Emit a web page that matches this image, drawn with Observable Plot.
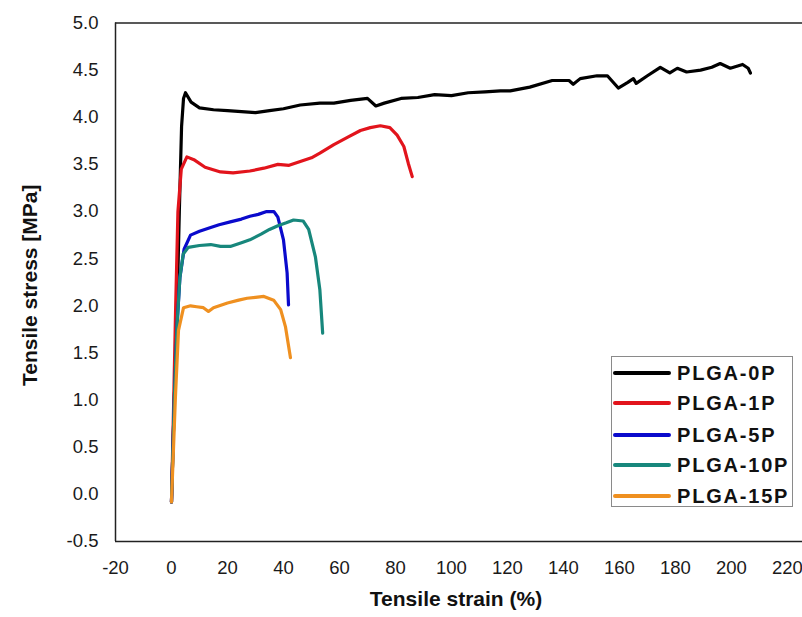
<!DOCTYPE html>
<html>
<head>
<meta charset="utf-8">
<script src="https://cdn.jsdelivr.net/npm/d3@7"></script>
<script src="https://cdn.jsdelivr.net/npm/@observablehq/plot@0.6"></script>
<style>
  html, body { margin: 0; padding: 0; background: #fff; }
  #wrap { position: relative; width: 802px; height: 617px; font-family: "Liberation Sans", Arial, sans-serif; }
  #legend { position: absolute; left: 611px; top: 356px; width: 182px; height: 151px; border: 1px solid #8a8a8a; background: #fff; box-sizing: border-box; overflow: visible; }
  .row { position: absolute; left: 0; height: 30px; display: flex; align-items: center; white-space: nowrap; }
  .sw { flex: none; width: 58px; height: 4px; margin-left: 1px; border-radius: 2px; }
  .lb { flex: none; white-space: nowrap; margin-left: 6px; font-weight: bold; font-size: 20px; letter-spacing: 1.8px; color: #111; }
</style>
</head>
<body>
<div id="wrap"></div>
<script>
// ---- data ----
const seriesNames = ["PLGA-0P", "PLGA-1P", "PLGA-5P", "PLGA-10P", "PLGA-15P"];
const seriesColors = ["#000000", "#e2141c", "#0a0acc", "#17877c", "#ef9020"];

const strain0P = [0, 1, 2, 2.8, 3.6, 4.3, 5, 7, 10, 15, 20, 25, 30, 35, 40, 46, 53, 58, 64, 70, 73, 76, 82, 88, 94, 100, 106, 112, 117.5, 121, 128, 136, 142, 143.5, 146, 152, 155.7, 159.6, 163, 165, 166, 170, 174.6, 178, 180.7, 184, 189, 193, 196, 199.6, 204, 206, 206.8];
const stress0P = [-0.08, 1.0, 2.0, 3.0, 3.9, 4.2, 4.26, 4.16, 4.1, 4.08, 4.07, 4.06, 4.05, 4.07, 4.09, 4.13, 4.15, 4.15, 4.18, 4.2, 4.12, 4.15, 4.2, 4.21, 4.24, 4.23, 4.26, 4.27, 4.28, 4.28, 4.32, 4.39, 4.39, 4.35, 4.41, 4.44, 4.44, 4.31, 4.37, 4.41, 4.36, 4.44, 4.53, 4.47, 4.52, 4.48, 4.50, 4.53, 4.57, 4.52, 4.56, 4.52, 4.47];

const strain1P = [0, 0.8, 1.5, 2.3, 3.5, 5.5, 8, 12, 17.5, 22, 28, 33, 38, 42, 46, 50, 53, 58, 63, 67.5, 71, 74.6, 78, 80.6, 83, 84.6, 86];
const stress1P = [-0.08, 1.0, 2.0, 3.0, 3.45, 3.58, 3.55, 3.47, 3.42, 3.41, 3.43, 3.46, 3.50, 3.49, 3.53, 3.57, 3.62, 3.71, 3.79, 3.86, 3.89, 3.91, 3.89, 3.81, 3.69, 3.51, 3.37];

const strain5P = [0, 1, 2, 3, 4.5, 6.8, 10, 14, 17, 21, 25, 28, 31, 34, 36.6, 38, 40, 41.3, 41.8];
const stress5P = [-0.08, 1.0, 1.8, 2.3, 2.6, 2.75, 2.79, 2.83, 2.86, 2.89, 2.92, 2.95, 2.97, 3.0, 3.0, 2.94, 2.70, 2.35, 2.01];

const strain10P = [0, 1, 2, 3, 4.2, 6, 10, 14, 17.5, 21, 25, 28, 32, 35, 38, 41, 43.6, 47, 49, 51.4, 53, 54];
const stress10P = [-0.08, 1.0, 1.8, 2.3, 2.55, 2.62, 2.64, 2.65, 2.63, 2.63, 2.67, 2.70, 2.76, 2.81, 2.85, 2.88, 2.91, 2.90, 2.81, 2.52, 2.17, 1.71];

const strain15P = [0, 1.4, 2.5, 4.3, 6.8, 9, 11.4, 13.2, 15, 20, 24, 27, 30, 33, 36.5, 39, 40.7, 42.5];
const stress15P = [-0.08, 1.03, 1.74, 1.98, 2.0, 1.99, 1.98, 1.94, 1.98, 2.03, 2.06, 2.08, 2.09, 2.1, 2.06, 1.96, 1.78, 1.45];

const xTicks = [-20, 0, 20, 40, 60, 80, 100, 120, 140, 160, 180, 200, 220];
const yTicks = [-0.5, 0, 0.5, 1.0, 1.5, 2.0, 2.5, 3.0, 3.5, 4.0, 4.5, 5.0];

// ---- build table ----
const strains = [strain0P, strain1P, strain5P, strain10P, strain15P];
const stresses = [stress0P, stress1P, stress5P, stress10P, stress15P];
const rows = [];
seriesNames.forEach((name, i) => {
  strains[i].forEach((s, j) => rows.push({series: name, strain: s, stress: stresses[i][j]}));
});

const font = "Liberation Sans, Arial, sans-serif";
const fmtY = d => d.toFixed(1);
const fmtX = d => String(d);
const chart = Plot.plot({
  width: 802,
  height: 617,
  marginLeft: 115,
  marginRight: 0,
  marginTop: 22.5,
  marginBottom: 76,
  style: {fontFamily: font, background: "#fff", overflow: "visible"},
  x: {domain: [-20, 225.4], ticks: xTicks, tickFormat: fmtX, label: null},
  y: {domain: [-0.5, 5.0], ticks: yTicks, tickFormat: fmtY, label: null},
  color: {domain: seriesNames, range: seriesColors},
  marks: [
    Plot.axisX({ticks: xTicks, tickSize: 0, tickPadding: 19.5, fontSize: 18.5, fill: "#1a1a1a", tickFormat: fmtX, label: null}),
    Plot.axisY({ticks: yTicks, tickSize: 0, tickPadding: 17, fontSize: 18.5, fill: "#1a1a1a", tickFormat: fmtY, label: null}),
    Plot.line(rows, {x: "strain", y: "stress", z: "series", stroke: "series", strokeWidth: 3.2, strokeLinejoin: "round", strokeLinecap: "round"}),
    Plot.ruleX([-20], {stroke: "#222", strokeWidth: 1.5}),
    Plot.ruleY([-0.5, 5.0], {stroke: "#222", strokeWidth: 1.5}),
    Plot.text(["Tensile strain (%)"], {frameAnchor: "bottom", textAnchor: "middle", dy: 64, dx: -3, fontSize: 21, fontWeight: "bold", fill: "#111"}),
    Plot.text(["Tensile stress [MPa]"], {frameAnchor: "left", textAnchor: "middle", dx: -85, dy: 3, rotate: -90, fontSize: 21, fontWeight: "bold", fill: "#111"})
  ]
});
const wrap = document.getElementById("wrap");
wrap.appendChild(chart);

// legend
const leg = document.createElement("div");
leg.id = "legend";
const rowCenters = [16, 46, 78, 108, 139];
seriesNames.forEach((name, i) => {
  const r = document.createElement("div");
  r.className = "row";
  r.style.top = (rowCenters[i] - 15) + "px";
  const sw = document.createElement("div");
  sw.className = "sw";
  sw.style.background = seriesColors[i];
  const lb = document.createElement("span");
  lb.className = "lb";
  lb.textContent = name;
  r.appendChild(sw); r.appendChild(lb);
  leg.appendChild(r);
});
wrap.appendChild(leg);
</script>
</body>
</html>
